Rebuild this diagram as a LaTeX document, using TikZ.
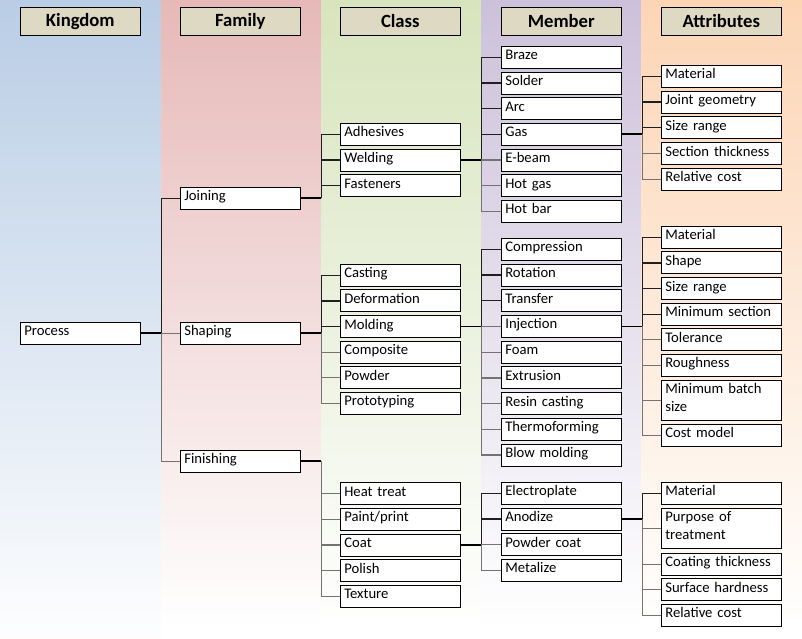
\documentclass[tikz,border=0pt]{standalone}
\usepackage{fontspec}
\setmainfont{Carlito}
\usetikzlibrary{calc}
\definecolor{hdrfill}{HTML}{DDD9C3}
\definecolor{bgA}{HTML}{B9CDE5}
\definecolor{bgB}{HTML}{E6B9B8}
\definecolor{bgC}{HTML}{D7E4BD}
\definecolor{bgD}{HTML}{CCC1DA}
\definecolor{bgE}{HTML}{FCD5B5}
\newcommand\hdrfont{\fontsize{18.67}{22}\selectfont\bfseries}
\newcommand\bodyfont{\fontsize{14.67}{17.6}\selectfont}
\newcommand\bx[5]{\node[bx,minimum height=#4pt,label={[lbl]north west:{#5}}] (#1) at (#2,{#3+0.5}) {};}
\begin{document}
\begin{tikzpicture}[x=1pt,y=-1pt,
  hdr/.style={draw=black,line width=1pt,fill=hdrfill,minimum width=120pt,minimum height=28.3pt,anchor=north west,inner sep=0pt,font=\hdrfont},
  bx/.style={draw=black,line width=1pt,fill=white,minimum width=120pt,anchor=north west,inner sep=0pt},
  lbl/.style={anchor=base west,inner sep=0pt,text width=114pt,align=left,font=\bodyfont,xshift=4.3pt,yshift=-14pt},
  stub/.style={draw=black,line width=1.8pt},
  cup/.style={draw=black!88,line width=1.2pt},
  cdn/.style={draw=black!55,line width=1.2pt}]
\useasboundingbox (0,0) rectangle (802,638);
\fill[white] (0,0) rectangle (802,638);
\shade[top color=bgA,bottom color=white!97!bgA] (0,0) rectangle (161,638);
\shade[top color=bgB,bottom color=white] (161,0) rectangle (321,627);
\shade[top color=bgC,bottom color=white] (321,0) rectangle (481,627);
\shade[top color=bgD,bottom color=white] (481,0) rectangle (641,627);
\shade[top color=bgE,bottom color=white] (641,0) rectangle (802,627);
% headers
\node[hdr] (hK) at (19.8,6.5) {Kingdom};
\node[hdr] (hF) at (179.8,6.5) {Family};
\node[hdr] (hC) at (339.8,6.5) {Class};
\node[hdr] (hM) at (500.8,6.5) {Member};
\node[hdr] (hA) at (660.8,6.5) {Attributes};
% kingdom / family
\bx{P}{19.8}{321.3}{22}{Process}
\bx{J}{179.8}{186.3}{22}{Joining}
\bx{S}{179.8}{321.3}{22}{Shaping}
\bx{F}{179.8}{449.3}{22}{Finishing}
% class
\bx{c1}{339.8}{122.3}{22}{Adhesives}
\bx{c2}{339.8}{148.0}{22}{Welding}
\bx{c3}{339.8}{173.7}{22}{Fasteners}
\bx{c4}{339.8}{263.3}{22}{Casting}
\bx{c5}{339.8}{288.9}{22}{Deformation}
\bx{c6}{339.8}{314.5}{22}{Molding}
\bx{c7}{339.8}{340.1}{22}{Composite}
\bx{c8}{339.8}{365.7}{22}{Powder}
\bx{c9}{339.8}{391.3}{22}{Prototyping}
\bx{c10}{339.8}{481.7}{22}{Heat treat}
\bx{c11}{339.8}{507.35}{22}{Paint/print}
\bx{c12}{339.8}{533.0}{22}{Coat}
\bx{c13}{339.8}{558.65}{22}{Polish}
\bx{c14}{339.8}{584.3}{22}{Texture}
% member
\bx{m1}{500.8}{45.3}{22}{Braze}
\bx{m2}{500.8}{71.0}{22}{Solder}
\bx{m3}{500.8}{96.6}{22}{Arc}
\bx{m4}{500.8}{122.3}{22}{Gas}
\bx{m5}{500.8}{148.0}{22}{E-beam}
\bx{m6}{500.8}{173.6}{22}{Hot gas}
\bx{m7}{500.8}{199.3}{22}{Hot bar}
\bx{m8}{500.8}{237.3}{22}{Compression}
\bx{m9}{500.8}{263.0}{22}{Rotation}
\bx{m10}{500.8}{288.7}{22}{Transfer}
\bx{m11}{500.8}{314.4}{22}{Injection}
\bx{m12}{500.8}{340.1}{22}{Foam}
\bx{m13}{500.8}{365.9}{22}{Extrusion}
\bx{m14}{500.8}{391.6}{22}{Resin casting}
\bx{m15}{500.8}{417.3}{22}{Thermoforming}
\bx{m16}{500.8}{443.0}{22}{Blow molding}
\bx{m17}{500.8}{481.3}{22}{Electroplate}
\bx{m18}{500.8}{507.0}{22}{Anodize}
\bx{m19}{500.8}{532.6}{22}{Powder coat}
\bx{m20}{500.8}{558.3}{22}{Metalize}
% attributes
\bx{a1}{660.8}{64.3}{22}{Material}
\bx{a2}{660.8}{90.05}{22}{Joint geometry}
\bx{a3}{660.8}{115.8}{22}{Size range}
\bx{a4}{660.8}{141.55}{22}{Section thickness}
\bx{a5}{660.8}{167.3}{22}{Relative cost}
\bx{a6}{660.8}{225.3}{22}{Material}
\bx{a7}{660.8}{250.9}{22}{Shape}
\bx{a8}{660.8}{276.5}{22}{Size range}
\bx{a9}{660.8}{302.1}{22}{Minimum section}
\bx{a10}{660.8}{327.7}{22}{Tolerance}
\bx{a11}{660.8}{353.3}{22}{Roughness}
\bx{a12}{660.8}{379.3}{40}{Minimum batch\\size}
\bx{a13}{660.8}{423.3}{22}{Cost model}
\bx{a14}{660.8}{481.3}{22}{Material}
\bx{a15}{660.8}{507.3}{40}{Purpose of\\treatment}
\bx{a16}{660.8}{552.3}{22}{Coating thickness}
\bx{a17}{660.8}{577.8}{22}{Surface hardness}
\bx{a18}{660.8}{603.3}{22}{Relative cost}
% trunk points
\foreach \p in {P,J,S,F,c2,c6,c12,m4,m11,m18}
  \coordinate (t\p) at ([xshift=20.4pt]\p.east);
% connectors
\begin{scope}[on background layer/.style={}]
\draw[cup] (tP) |- (J.west);
\foreach \c in {S,F} \draw[cdn] (tP) |- (\c.west);
\foreach \c in {c1,c2,c3} \draw[cup] (tJ) |- (\c.west);
\foreach \c in {c4,c5,c6} \draw[cup] (tS) |- (\c.west);
\foreach \c in {c7,c8,c9} \draw[cdn] (tS) |- (\c.west);
\foreach \c in {c10,c11,c12,c13,c14} \draw[cdn] (tF) |- (\c.west);
\foreach \c in {m1,m2,m3,m4} \draw[cup] (tc2) |- (\c.west);
\foreach \c in {m5,m6,m7} \draw[cdn] (tc2) |- (\c.west);
\foreach \c in {m8,m9,m10} \draw[cup] (tc6) |- (\c.west);
\foreach \c in {m11,m12,m13,m14,m15,m16} \draw[cdn] (tc6) |- (\c.west);
\foreach \c in {m17,m18} \draw[cup] (tc12) |- (\c.west);
\foreach \c in {m19,m20} \draw[cdn] (tc12) |- (\c.west);
\foreach \c in {a1,a2,a3} \draw[cup] (tm4) |- (\c.west);
\foreach \c in {a4,a5} \draw[cdn] (tm4) |- (\c.west);
\foreach \c in {a6,a7,a8,a9} \draw[cup] (tm11) |- (\c.west);
\foreach \c in {a10,a11,a12,a13} \draw[cdn] (tm11) |- (\c.west);
\draw[cup] (tm18) |- (a14.west);
\foreach \c in {a15,a16,a17,a18} \draw[cdn] (tm18) |- (\c.west);
\foreach \p in {P,J,S,F,c2,c6,c12,m4,m11,m18} \draw[stub] (\p.east) -- (t\p);
\end{scope}
\end{tikzpicture}
\end{document}
